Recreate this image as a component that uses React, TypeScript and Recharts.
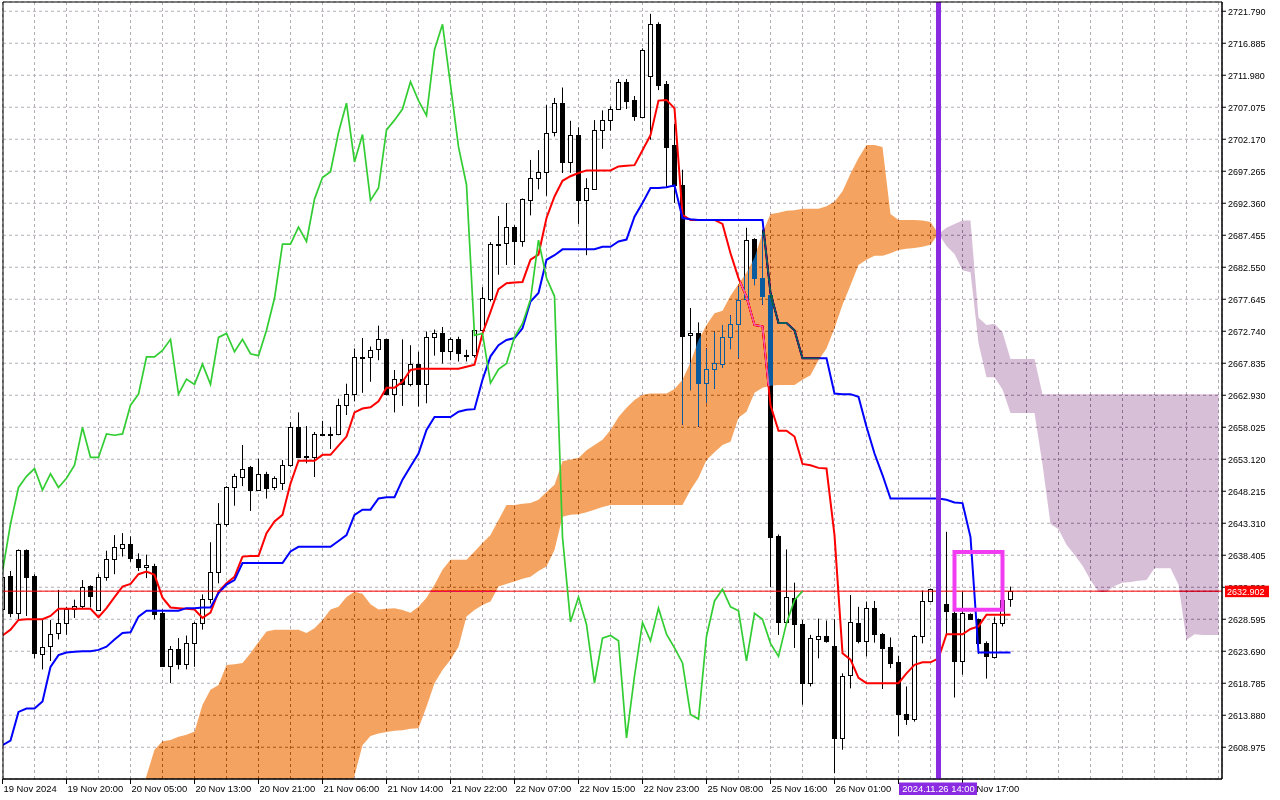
import React from "react";
import {
  ComposedChart,
  Bar,
  Line,
  Area,
  XAxis,
  YAxis,
  CartesianGrid,
  ReferenceLine,
  ReferenceArea,
} from "recharts";

const FONT = "'Liberation Sans', Arial, sans-serif";

// XAUUSD H1, one entry per bar (bar 0 = 19 Nov 12:00)
const opens = [
  2630.1, 2635.2, 2629.5, 2639.2, 2635.2, 2623.3, 2624.6, 2626.4, 2628.1, 2630.2,
  2630.7, 2633.7, 2630.1, 2635.1, 2637.8, 2639.5, 2640.1, 2637.9, 2636.6, 2636.8,
  2629.5, 2621.5, 2624.1, 2621.8, 2625.0, 2628.0, 2631.7, 2635.9, 2643.1, 2648.8,
  2650.5, 2652.0, 2648.5, 2650.9, 2648.8, 2649.5, 2652.1, 2658.0, 2653.6, 2653.5,
  2657.0, 2656.9, 2656.9, 2661.4, 2663.1, 2668.7, 2668.8, 2669.9, 2671.5, 2663.1,
  2665.4, 2664.6, 2667.7, 2664.6, 2671.8, 2672.4, 2669.6, 2671.5, 2669.1, 2669.0,
  2672.9, 2677.7, 2686.0, 2686.2, 2688.7, 2686.5, 2693.0, 2696.3, 2697.2, 2703.3,
  2707.7, 2698.7, 2702.8, 2692.8, 2694.5, 2703.5, 2705.1, 2706.8, 2711.0, 2708.2,
  2705.6, 2711.8, 2719.8, 2710.6, 2701.3, 2695.2, 2672.1, 2672.4, 2664.8, 2666.9,
  2667.8, 2671.9, 2673.9, 2677.6, 2686.9, 2680.9, 2678.3, 2641.4, 2628.2, 2631.8,
  2627.8, 2618.8, 2625.7, 2626.1, 2624.5, 2610.4, 2619.9, 2628.0, 2625.2, 2630.3,
  2626.3, 2624.4, 2622.0, 2614.1, 2613.3, 2626.0, 2631.4, 2633.0, 2630.9, 2629.6,
  2622.2, 2629.4, 2628.6, 2624.9, 2622.8, 2628.0, 2631.7,
];
const highs = [
  2635.4, 2636.0, 2639.3, 2639.3, 2635.5, 2628.5, 2628.5, 2633.1, 2630.5, 2631.6,
  2634.6, 2633.8, 2635.5, 2639.1, 2641.5, 2641.8, 2641.3, 2638.7, 2638.5, 2637.1,
  2630.1, 2624.5, 2625.7, 2626.1, 2628.2, 2632.4, 2640.4, 2646.4, 2649.0, 2650.9,
  2655.3, 2652.1, 2653.2, 2651.2, 2650.5, 2653.0, 2658.8, 2660.3, 2658.2, 2657.3,
  2659.0, 2658.1, 2662.4, 2664.7, 2670.1, 2671.7, 2670.4, 2673.6, 2671.6, 2666.8,
  2671.5, 2670.6, 2669.6, 2672.7, 2673.0, 2673.4, 2671.8, 2671.9, 2669.9, 2673.2,
  2679.5, 2686.4, 2690.4, 2692.4, 2689.0, 2693.1, 2699.0, 2700.5, 2707.4, 2708.5,
  2710.1, 2705.0, 2704.0, 2696.2, 2705.1, 2706.6, 2707.2, 2711.4, 2711.4, 2708.8,
  2716.1, 2721.4, 2720.1, 2711.1, 2704.5, 2697.5, 2676.3, 2674.1, 2670.1, 2672.7,
  2673.7, 2675.2, 2679.6, 2688.6, 2687.0, 2688.3, 2678.6, 2641.6, 2639.3, 2634.2,
  2628.5, 2626.2, 2628.7, 2628.4, 2628.6, 2620.3, 2632.3, 2630.5, 2631.3, 2631.4,
  2626.5, 2625.8, 2623.0, 2618.3, 2626.2, 2633.0, 2633.3, 2634.0, 2642.0, 2630.0,
  2632.8, 2629.5, 2628.7, 2625.2, 2628.9, 2632.0, 2633.6,
];
const lows = [
  2629.7, 2628.9, 2628.5, 2629.1, 2622.6, 2620.9, 2622.2, 2625.5, 2626.2, 2628.8,
  2630.2, 2630.4, 2629.9, 2634.5, 2635.5, 2638.2, 2637.4, 2636.0, 2634.9, 2628.6,
  2621.3, 2618.8, 2620.9, 2620.9, 2621.3, 2627.0, 2631.0, 2634.1, 2642.8, 2646.0,
  2649.0, 2645.2, 2648.4, 2647.1, 2648.4, 2648.4, 2652.0, 2653.3, 2652.5, 2650.4,
  2656.7, 2654.7, 2656.8, 2659.9, 2662.0, 2663.3, 2665.0, 2668.3, 2662.9, 2660.3,
  2661.3, 2664.3, 2661.2, 2661.7, 2669.0, 2667.8, 2668.3, 2668.1, 2668.1, 2668.7,
  2672.8, 2677.3, 2681.4, 2682.9, 2682.9, 2685.7, 2690.5, 2694.5, 2693.5, 2702.6,
  2697.0, 2697.0, 2689.2, 2684.4, 2694.4, 2700.7, 2703.5, 2706.7, 2706.8, 2705.0,
  2705.5, 2702.1, 2709.7, 2694.8, 2692.4, 2658.4, 2663.7, 2658.1, 2661.7, 2663.9,
  2667.1, 2670.0, 2668.6, 2677.5, 2679.8, 2676.8, 2633.5, 2626.2, 2628.1, 2624.2,
  2615.5, 2618.3, 2622.6, 2625.0, 2605.0, 2608.6, 2618.0, 2624.9, 2622.9, 2625.0,
  2617.9, 2621.1, 2610.7, 2612.4, 2612.9, 2624.9, 2631.3, 2626.0, 2626.2, 2616.6,
  2620.1, 2628.5, 2623.3, 2619.5, 2622.6, 2627.5, 2630.5,
];
const closes = [
  2635.0, 2629.5, 2639.2, 2635.1, 2623.4, 2624.4, 2626.4, 2628.0, 2630.2, 2630.7,
  2633.6, 2632.1, 2635.1, 2637.8, 2639.6, 2640.1, 2637.9, 2636.6, 2636.9, 2629.5,
  2621.4, 2624.1, 2621.8, 2625.0, 2628.0, 2631.7, 2635.9, 2643.2, 2648.8, 2650.5,
  2651.7, 2648.4, 2650.9, 2648.8, 2650.2, 2652.2, 2658.0, 2653.4, 2653.4, 2657.0,
  2656.8, 2657.0, 2661.4, 2663.1, 2668.8, 2668.8, 2669.8, 2671.5, 2663.1, 2665.4,
  2664.6, 2667.7, 2664.6, 2671.8, 2672.4, 2669.6, 2671.5, 2669.3, 2669.0, 2672.9,
  2677.8, 2686.1, 2686.1, 2688.7, 2686.5, 2693.0, 2696.3, 2697.2, 2703.2, 2707.7,
  2698.7, 2702.9, 2692.8, 2694.7, 2703.6, 2705.1, 2706.8, 2711.0, 2708.1, 2705.8,
  2715.9, 2719.8, 2710.5, 2701.0, 2695.2, 2672.1, 2672.4, 2664.8, 2666.9, 2667.8,
  2671.9, 2673.9, 2677.6, 2686.7, 2680.9, 2678.1, 2641.2, 2628.2, 2632.0, 2627.8,
  2618.8, 2625.7, 2626.1, 2625.3, 2610.4, 2619.9, 2628.1, 2625.3, 2630.3, 2626.3,
  2624.2, 2621.9, 2614.0, 2613.3, 2626.0, 2631.4, 2633.2, 2630.5, 2629.9, 2622.2,
  2629.5, 2628.6, 2624.9, 2622.9, 2628.0, 2631.5, 2632.9,
];

// Ichimoku (9, 26, 52)
const tenkan = [
  2626.1, 2627.0, 2628.5, 2628.6, 2628.6, 2628.6, 2629.1, 2630.2, 2630.2, 2630.2,
  2630.2, 2630.2, 2628.9, 2630.3, 2632.0, 2633.6, 2634.0, 2635.5, 2635.9, 2635.4,
  2631.9, 2630.4, 2630.3, 2630.2, 2630.1, 2628.8, 2629.6, 2632.8, 2634.1, 2635.1,
  2638.2, 2638.3, 2638.3, 2641.8, 2643.6, 2644.6, 2649.4, 2652.9, 2652.9, 2652.9,
  2653.8, 2653.8, 2655.2, 2656.6, 2660.3, 2660.9, 2661.1, 2662.0, 2664.1, 2664.1,
  2665.0, 2666.8, 2667.0, 2667.0, 2667.0, 2667.0, 2667.0, 2667.0, 2667.3, 2667.6,
  2672.4, 2675.7, 2679.2, 2680.1, 2680.2, 2680.3, 2683.7, 2684.5, 2690.1, 2693.4,
  2695.8, 2696.5, 2697.0, 2697.4, 2697.4, 2697.4, 2697.4, 2698.0, 2698.1, 2698.2,
  2700.5, 2702.8, 2708.1, 2708.2, 2706.9, 2690.6, 2689.8, 2689.8, 2689.8, 2689.8,
  2689.2, 2684.7, 2680.9, 2678.0, 2673.7, 2673.5, 2661.4, 2657.5, 2657.5, 2656.6,
  2652.4, 2652.2, 2651.8, 2651.7, 2641.5, 2623.4, 2622.4, 2619.6, 2618.8, 2618.8,
  2618.8, 2618.8, 2618.8, 2620.3, 2621.6, 2622.0, 2622.0, 2622.6, 2626.3, 2626.3,
  2626.3, 2627.1, 2627.5, 2629.3, 2629.3, 2629.3, 2629.3,
];
const kijun = [
  2609.3, 2610.0, 2614.4, 2614.9, 2614.9, 2616.0, 2621.3, 2623.1, 2623.5, 2623.6,
  2623.7, 2623.7, 2623.9, 2624.4, 2625.5, 2626.5, 2626.6, 2629.0, 2629.9, 2629.9,
  2629.9, 2629.9, 2629.9, 2630.3, 2630.3, 2630.4, 2630.4, 2632.6, 2633.9, 2634.6,
  2637.2, 2637.2, 2637.2, 2637.2, 2637.2, 2637.2, 2639.0, 2639.7, 2639.7, 2639.7,
  2639.7, 2639.7, 2640.6, 2641.5, 2644.6, 2645.4, 2645.4, 2647.1, 2647.3, 2647.3,
  2650.0, 2652.0, 2654.0, 2657.6, 2659.6, 2659.6, 2659.6, 2660.4, 2660.7, 2660.8,
  2665.3, 2668.9, 2670.6, 2671.4, 2671.7, 2673.2, 2677.3, 2678.6, 2683.7, 2684.4,
  2685.3, 2685.3, 2685.3, 2685.3, 2685.3, 2685.7, 2685.7, 2686.5, 2686.8, 2690.3,
  2692.4, 2694.7, 2694.7, 2694.8, 2695.1, 2690.1, 2689.9, 2689.8, 2689.8, 2689.8,
  2689.8, 2689.8, 2689.8, 2689.8, 2689.8, 2689.8, 2678.6, 2674.0, 2674.0, 2672.9,
  2668.6, 2668.6, 2668.6, 2668.6, 2663.2, 2663.1, 2663.1, 2662.7, 2658.1, 2654.0,
  2650.7, 2647.1, 2647.1, 2647.1, 2647.1, 2647.1, 2647.1, 2647.1, 2646.9, 2646.5,
  2646.4, 2641.2, 2623.5, 2623.5, 2623.5, 2623.5, 2623.5,
];

// kumo while span A is above span B (bars 17..117), then the thistle part (117..152)
const bullCloudStart = 17;
const bullCloudTop = [
  2600.9, 2604.6, 2608.6, 2609.9, 2610.1, 2610.6, 2610.9, 2611.4, 2615.5, 2617.8,
  2618.5, 2621.6, 2621.7, 2621.9, 2623.4, 2625.1, 2626.7, 2627.0, 2627.0, 2627.0,
  2627.0, 2626.5, 2627.2, 2628.5, 2630.1, 2630.5, 2632.0, 2632.8, 2632.5, 2630.9,
  2630.1, 2630.2, 2630.3, 2630.0, 2629.6, 2630.5, 2631.9, 2633.9, 2636.2, 2637.7,
  2637.7, 2637.7, 2639.0, 2640.3, 2641.5, 2643.8, 2646.1, 2646.1, 2646.3, 2646.4,
  2646.9, 2648.1, 2649.2, 2652.8, 2653.1, 2653.3, 2654.5, 2655.3, 2656.1, 2657.6,
  2659.6, 2661.0, 2662.2, 2663.0, 2663.2, 2663.2, 2663.2, 2663.9, 2665.3, 2668.0,
  2671.4, 2673.7, 2675.5, 2675.9, 2678.2, 2680.0, 2681.7, 2684.0, 2687.8, 2690.7,
  2690.9, 2691.2, 2691.3, 2691.5, 2691.5, 2691.5, 2691.9, 2692.6, 2694.2, 2696.9,
  2699.3, 2701.3, 2701.3, 2701.0, 2690.7, 2689.8, 2689.8, 2689.8, 2689.7, 2689.5,
  2687.7,
];
const bullCloudBottom = [
  2598.0, 2598.0, 2598.0, 2598.0, 2598.0, 2598.0, 2598.0, 2598.0, 2598.0, 2598.0,
  2598.0, 2598.0, 2598.0, 2598.0, 2598.0, 2598.0, 2598.0, 2598.0, 2598.0, 2598.0,
  2598.0, 2598.0, 2598.0, 2598.0, 2598.0, 2598.0, 2598.0, 2604.6, 2609.3, 2610.7,
  2611.1, 2611.3, 2611.5, 2611.6, 2611.8, 2611.9, 2615.2, 2618.8, 2620.8, 2622.4,
  2624.4, 2629.0, 2630.0, 2630.8, 2631.3, 2633.6, 2634.0, 2634.4, 2634.8, 2635.1,
  2636.0, 2636.7, 2639.2, 2644.3, 2644.6, 2644.7, 2645.0, 2645.4, 2645.8, 2646.1,
  2646.1, 2646.1, 2646.1, 2646.1, 2646.1, 2646.1, 2646.1, 2646.1, 2646.1, 2648.4,
  2650.3, 2653.0, 2654.2, 2655.3, 2655.8, 2659.5, 2660.4, 2663.3, 2664.1, 2664.4,
  2664.5, 2664.5, 2664.5, 2665.3, 2666.0, 2668.3, 2670.1, 2673.2, 2676.8, 2679.8,
  2682.9, 2683.7, 2684.3, 2684.3, 2684.7, 2685.2, 2685.4, 2685.5, 2685.7, 2686.0,
  2687.7,
];
const bearCloudStart = 117;
const bearCloudTop = [
  2687.7, 2688.6, 2689.2, 2689.7, 2689.7, 2674.8, 2673.7, 2673.9, 2672.6, 2668.5,
  2668.5, 2668.5, 2668.5, 2663.1, 2663.1, 2663.1, 2663.1, 2663.1, 2663.1, 2663.1,
  2663.1, 2663.1, 2663.1, 2663.1, 2663.1, 2663.1, 2663.1, 2663.1, 2663.1, 2663.1,
  2663.1, 2663.1, 2663.1, 2663.1, 2663.1, 2663.1,
];
const bearCloudBottom = [
  2687.7, 2685.8, 2684.6, 2682.1, 2681.8, 2670.9, 2665.7, 2665.7, 2663.8, 2660.2,
  2660.2, 2660.2, 2660.2, 2652.3, 2643.2, 2642.4, 2640.0, 2638.5, 2636.8, 2634.6,
  2632.8, 2632.8, 2633.7, 2634.2, 2634.3, 2634.5, 2634.6, 2636.4, 2636.4, 2636.4,
  2633.9, 2625.4, 2626.3, 2626.2, 2626.2, 2626.2,
];

const lastBar = 152;
const chikouShift = 26;

const timeTickBars = [0, 8, 16, 24, 32, 40, 48, 56, 64, 72, 80, 88, 96, 104, 112, 120];
const timeLabels = [
  "19 Nov 2024", "19 Nov 20:00", "20 Nov 05:00", "20 Nov 13:00", "20 Nov 21:00",
  "21 Nov 06:00", "21 Nov 14:00", "21 Nov 22:00", "22 Nov 07:00", "22 Nov 15:00",
  "22 Nov 23:00", "25 Nov 08:00", "25 Nov 16:00", "26 Nov 01:00", "26 Nov 09:00",
  "26 Nov 17:00",
];

const priceTicks = [
  2608.975, 2613.88, 2618.785, 2623.69, 2628.595, 2633.5, 2638.405, 2643.31,
  2648.215, 2653.12, 2658.025, 2662.93, 2667.835, 2672.74, 2677.645, 2682.55,
  2687.455, 2692.36, 2697.265, 2702.17, 2707.075, 2711.98, 2716.885, 2721.79,
];

const lastPrice = 2632.902;
const cursorBar = 117;
const cursorLabel = "2024.11.26 14:00";
const boxBars = [119, 125];
const boxPrices = [2630.07, 2638.91];

// grid every 4 bars; the cursor bar goes last so its flag is painted over the other labels
const gridBars = Array.from({ length: lastBar / 4 + 1 }, (_, k) => k * 4);
const xTicks = [...gridBars, cursorBar];
const yTicks = [...priceTicks, lastPrice];

const xDomain: [number, number] = [0.0625, 152.4375];
const yDomain: [number, number] = [2604.11, 2723.21];

const rows = Array.from({ length: lastBar + 1 }, (_, i) => {
  const row: any = { i };
  if (i < closes.length) {
    row.candle = [lows[i], highs[i]];
    row.o = opens[i];
    row.h = highs[i];
    row.l = lows[i];
    row.c = closes[i];
    row.tenkan = tenkan[i];
    row.kijun = kijun[i];
  }
  if (i + chikouShift < closes.length) row.chikou = closes[i + chikouShift];
  const b = i - bullCloudStart;
  if (b >= 0 && b < bullCloudTop.length) row.bullKumo = [bullCloudBottom[b], bullCloudTop[b]];
  const s = i - bearCloudStart;
  if (s >= 0 && s < bearCloudTop.length) row.bearKumo = [bearCloudBottom[s], bearCloudTop[s]];
  return row;
});

const Candle = (props: any) => {
  const { x, y, width, height, payload } = props;
  if (!payload || payload.h == null || !isFinite(y)) return null;
  const top = Math.min(y, y + height);
  const span = Math.abs(height);
  const range = payload.h - payload.l || 1;
  const toY = (v: number) => top + ((payload.h - v) / range) * span;
  const cx = Math.floor(x + width / 2) + 0.5;
  const yo = toY(payload.o);
  const yc = toY(payload.c);
  const bodyTop = Math.round(Math.min(yo, yc));
  const bodyH = Math.max(Math.round(Math.abs(yc - yo)), 1);
  const up = payload.c >= payload.o;
  return (
    <g>
      <line x1={cx} x2={cx} y1={top} y2={top + span} stroke="#000" strokeWidth={1} />
      {up ? (
        <rect x={cx - 2} y={bodyTop + 0.5} width={4} height={bodyH} fill="#fff" stroke="#000" strokeWidth={1} />
      ) : (
        <rect x={cx - 2.5} y={bodyTop} width={5} height={bodyH + 1} fill="#000" />
      )}
    </g>
  );
};

const TimeTick = ({ x, y, payload }: any) => {
  if (payload.value === cursorBar) {
    return (
      <g>
        <rect x={x - 39.5} y={y + 3.5} width={78} height={12.5} fill="#8a2be2" />
        <text x={x} y={y + 13} textAnchor="middle" fontSize={9.4} fontFamily={FONT} fill="#fff">
          {cursorLabel}
        </text>
      </g>
    );
  }
  const k = timeTickBars.indexOf(payload.value);
  if (k < 0) return <g />;
  return (
    <g>
      <line x1={x} x2={x} y1={y} y2={y + 5} stroke="#000" />
      <text x={x + 1} y={y + 12.5} fontSize={9.4} fontFamily={FONT} fill="#000">
        {timeLabels[k]}
      </text>
    </g>
  );
};

const PriceTick = ({ x, y, payload }: any) => {
  if (payload.value === lastPrice) {
    return (
      <g>
        <rect x={x + 3} y={y - 5.5} width={44} height={11.5} fill="#ff0000" />
        <text x={x + 5} y={y + 3.5} fontSize={9} fontFamily={FONT} fill="#fff">
          {lastPrice.toFixed(3)}
        </text>
      </g>
    );
  }
  return (
    <g>
      <line x1={x} x2={x + 4} y1={y} y2={y} stroke="#000" />
      <text x={x + 6} y={y + 3.5} fontSize={9} fontFamily={FONT} fill="#000">
        {Number(payload.value).toFixed(3)}
      </text>
    </g>
  );
};

export default function App() {
  return (
    <div style={{ width: 1280, height: 800, background: "#fff" }}>
      <style>{"body{margin:0} .kumo{mix-blend-mode:difference}"}</style>
      <ComposedChart width={1280} height={800} data={rows} margin={{ top: 2, right: 0, bottom: 0, left: 3 }}>
        <CartesianGrid stroke="#b4adb6" strokeDasharray="3 3" fill="#ffffff" fillOpacity={1} />
        <XAxis
          dataKey="i"
          type="number"
          domain={xDomain}
          allowDataOverflow
          ticks={xTicks}
          interval={0}
          height={21}
          tickSize={0}
          tickMargin={0}
          tickLine={false}
          axisLine={{ stroke: "#000" }}
          tick={<TimeTick />}
        />
        <YAxis
          orientation="right"
          type="number"
          domain={yDomain}
          allowDataOverflow
          ticks={yTicks}
          interval={0}
          width={58}
          tickSize={0}
          tickMargin={0}
          tickLine={false}
          axisLine={{ stroke: "#000" }}
          tick={<PriceTick />}
        />
        <Bar dataKey="candle" barSize={5} shape={Candle} isAnimationActive={false} />
        <Line type="linear" dataKey="tenkan" stroke="#ff0000" strokeWidth={2} dot={false} activeDot={false} isAnimationActive={false} />
        <Line type="linear" dataKey="kijun" stroke="#0000ff" strokeWidth={2} dot={false} activeDot={false} isAnimationActive={false} />
        <ReferenceLine y={lastPrice} stroke="#ff0000" strokeWidth={1} zIndex={420} />
        <Area
          className="kumo"
          type="linear"
          dataKey="bullKumo"
          stroke="none"
          fill="rgb(11,91,159)"
          fillOpacity={1}
          dot={false}
          activeDot={false}
          isAnimationActive={false}
          zIndex={450}
        />
        <Area
          className="kumo"
          type="linear"
          dataKey="bearKumo"
          stroke="none"
          fill="rgb(39,64,39)"
          fillOpacity={1}
          dot={false}
          activeDot={false}
          isAnimationActive={false}
          zIndex={450}
        />
        <Line type="linear" dataKey="chikou" stroke="#32cd32" strokeWidth={1.7} dot={false} activeDot={false} isAnimationActive={false} zIndex={460} />
        <ReferenceLine x={cursorBar} stroke="#8a2be2" strokeWidth={5} zIndex={600} />
        <ReferenceArea
          x1={boxBars[0]}
          x2={boxBars[1]}
          y1={boxPrices[0]}
          y2={boxPrices[1]}
          fill="none"
          stroke="#f23cf2"
          strokeWidth={4}
          fillOpacity={0}
          strokeOpacity={1}
          zIndex={600}
        />
        <ReferenceArea x1={xDomain[0]} x2={xDomain[1]} y1={yDomain[0]} y2={yDomain[1]} fill="none" stroke="#000" fillOpacity={0} strokeOpacity={1} zIndex={600} />
      </ComposedChart>
    </div>
  );
}
